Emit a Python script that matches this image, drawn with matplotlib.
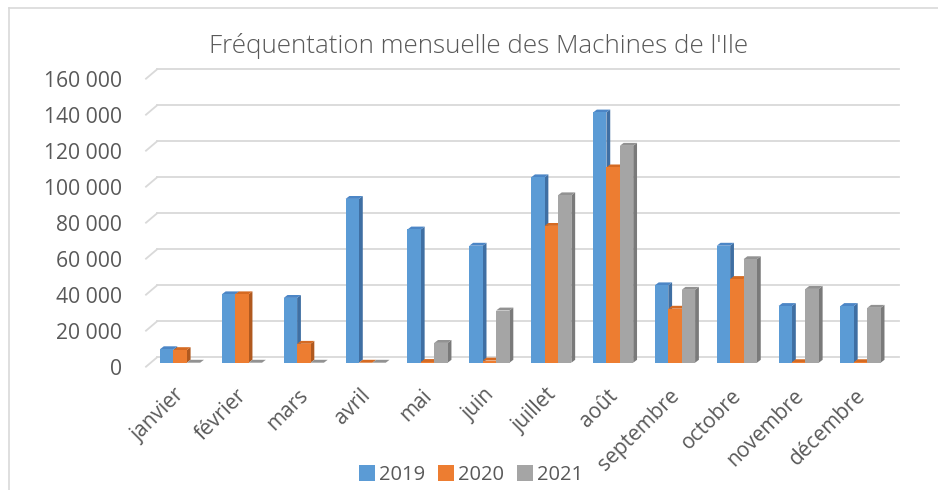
import matplotlib
matplotlib.use("Agg")
import matplotlib.pyplot as plt
from matplotlib.patches import Polygon, Rectangle
from matplotlib.lines import Line2D
from matplotlib.ticker import FuncFormatter
import matplotlib.transforms as mtransforms

# ---------------- data ----------------
months = ["janvier", "février", "mars", "avril", "mai", "juin", "juillet",
          "août", "septembre", "octobre", "novembre", "décembre"]
series_names = ["2019", "2020", "2021"]
v2019 = [7500, 38000, 36000, 91000, 74000, 65000, 103000, 139000, 43000, 65000, 31500, 31500]
v2020 = [7000, 38000, 10500, 0, 400, 1200, 76000, 108500, 30000, 46500, 300, 300]
v2021 = [0, 0, 0, 0, 11000, 29000, 93000, 120500, 40500, 57500, 41000, 30500]
yticks = [0, 20000, 40000, 60000, 80000, 100000, 120000, 140000, 160000]
title = "Fréquentation mensuelle des Machines de l'Ile"

# ---------------- style ----------------
FONT = ["Open Sans", "DejaVu Sans"]
plt.rcParams["font.family"] = FONT
TXT = "#595959"
GRID = "#D9D9D9"
front_cols = ["#5B9BD5", "#ED7D31", "#A5A5A5"]
side_cols = ["#3F6FA3", "#B0591F", "#7A7A7A"]
top_cols = ["#4C86C6", "#D56A22", "#929292"]

W, H = 938, 490
fig = plt.figure(figsize=(W / 100, H / 100), dpi=100)
fig.patch.set_facecolor("white")

# axes = "bar front plane" (pixel layout)
ax_l, ax_r = 146, 905
ax_top, ax_bot = 74.7, 362.7
ax = fig.add_axes([ax_l / W, (H - ax_bot) / H, (ax_r - ax_l) / W, (ax_bot - ax_top) / H])
ax.set_autoscale_on(False)
ax.set_xlim(-0.551, 11.718)
ax.set_ylim(0, 160000)
for s in ax.spines.values():
    s.set_visible(False)
ax.set_facecolor("none")

# pixel -> data conversions
px_x = (ax.get_xlim()[1] - ax.get_xlim()[0]) / ax.bbox.width
px_y = (ax.get_ylim()[1] - ax.get_ylim()[0]) / ax.bbox.height

# 3D depth of bars (pixels)
DX, DY = 3.8, 2.9
# wall offsets relative to bar plane (pixels)
BACK_DY = 5.3
FRONT_DY = -4.0

# gridlines on the back wall + diagonal on the side wall
x_front = ax.get_xlim()[0]
x_back_start = x_front + (157 - ax_l) * px_x
x_back_end = x_front + (899 - ax_l) * px_x
for v in yticks:
    yb = v + BACK_DY * px_y
    yf = v + FRONT_DY * px_y
    ax.add_line(Line2D([x_back_start, x_back_end], [yb, yb], color=GRID, lw=1.3,
                       zorder=1, clip_on=False))
    ax.add_line(Line2D([x_front, x_back_start], [yf, yb], color=GRID, lw=1.3,
                       zorder=1, clip_on=False))

# bars
bw = 0.2166
data = [v2019, v2020, v2021]
for i in range(len(months)):
    for j, vals in enumerate(data):
        h = vals[i]
        x0 = i - 1.5 * bw + j * bw
        z = 2 + i * 0.01 + j * 0.003
        dxd, dyd = DX * px_x, DY * px_y
        # side face
        ax.add_patch(Polygon([(x0 + bw, 0), (x0 + bw, h), (x0 + bw + dxd, h + dyd),
                              (x0 + bw + dxd, dyd)], closed=True, facecolor=side_cols[j],
                             edgecolor="none", zorder=z, clip_on=False))
        # top face
        ax.add_patch(Polygon([(x0, h), (x0 + bw, h), (x0 + bw + dxd, h + dyd),
                              (x0 + dxd, h + dyd)], closed=True, facecolor=top_cols[j],
                             edgecolor="none", zorder=z + 0.001, clip_on=False))
        # front face
        ax.add_patch(Rectangle((x0, 0), bw, h, facecolor=front_cols[j], edgecolor="none",
                               zorder=z + 0.002, clip_on=False))

# y tick labels (front plane)
ax.set_yticks(yticks)
ax.yaxis.set_major_formatter(FuncFormatter(lambda v, p: f"{v:,.0f}".replace(",", " ")))
ax.tick_params(axis="y", length=0, pad=17, labelsize=15.2, labelcolor=TXT)
yoff = mtransforms.ScaledTranslation(0, FRONT_DY / 100, fig.dpi_scale_trans)
for lab in ax.get_yticklabels():
    lab.set_transform(lab.get_transform() + yoff)

# x tick labels
ax.set_xticks(range(len(months)))
ax.set_xticklabels(months, rotation=45, ha="right", rotation_mode="anchor")
ax.tick_params(axis="x", length=0, pad=16, labelsize=15, labelcolor=TXT)
xoff = mtransforms.ScaledTranslation(-6 / 100, 0, fig.dpi_scale_trans)
for lab in ax.get_xticklabels():
    lab.set_transform(lab.get_transform() + xoff)

# title
fig.text(478.7 / W, (H - 46) / H, title, ha="center", va="center", fontsize=18.7,
         color=TXT, fontweight="light")

# legend
handles = [Rectangle((0, 0), 1, 1, facecolor=c, edgecolor="none") for c in front_cols]
fig.legend(handles, series_names, loc="center", bbox_to_anchor=(471 / W, 15 / H),
           ncol=3, frameon=False, fontsize=14.5, labelcolor=TXT, handlelength=0.8,
           handleheight=0.8, handletextpad=0.2, columnspacing=0.65, borderpad=0)

# chart border
fig.add_artist(Line2D([8.5 / W, 8.5 / W], [0, (H - 8.5) / H], color=GRID, lw=1.2))
fig.add_artist(Line2D([8.5 / W, 1], [(H - 8.5) / H, (H - 8.5) / H], color=GRID, lw=1.2))

fig.savefig("out.png", dpi=100, facecolor="white")
